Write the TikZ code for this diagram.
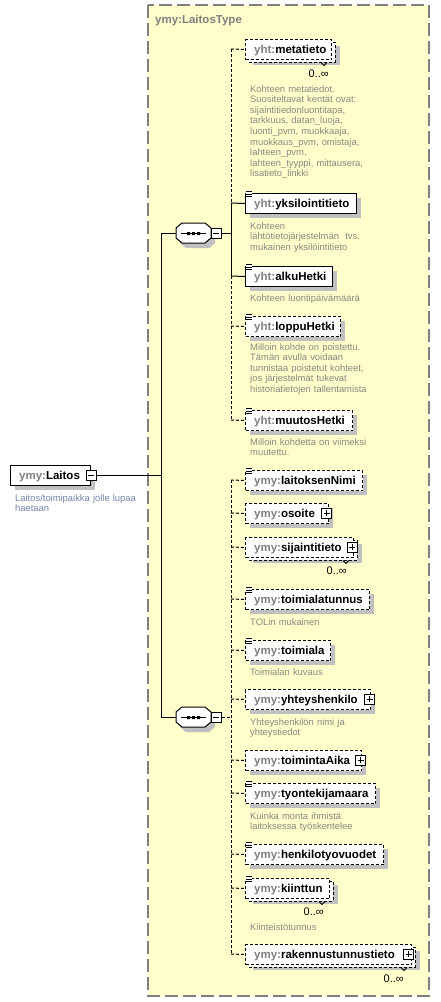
\documentclass[tikz,border=0pt]{standalone}
\usepackage{fontspec}
\setmainfont{Liberation Sans}
\definecolor{yel}{HTML}{FFFFCC}
\definecolor{bord}{HTML}{808080}
\definecolor{pfx}{HTML}{808080}
\definecolor{shd}{HTML}{C0C0C0}
\definecolor{dsc}{HTML}{888880}
\definecolor{dscb}{HTML}{7385AD}
\tikzset{
 solidbox/.style={draw=black, line width=1pt, fill=white, inner sep=0pt},
 dashbox/.style={solidbox, dash pattern=on 3pt off 2pt},
 lbl/.style={font=\fontsize{11.5}{13}\selectfont\bfseries, inner sep=0pt},
 desc/.style={font=\fontsize{9.4}{10.6}\selectfont, text=dsc, inner sep=0pt, text width=180pt, align=left},
 occ/.style={font=\fontsize{11}{12}\selectfont, inner sep=0pt},
 conn/.style={line width=1pt},
 dconn/.style={line width=1pt, dash pattern=on 3pt off 2pt},
 pmbox/.style={draw=black, line width=1pt, fill=white, minimum size=10pt, inner sep=0pt},
}
\newcommand\xbody[6]{%
  \node[#4, anchor=north west, minimum width={#3-245}, minimum height=20pt] (#1) at (245,#2) {};
  \node[lbl, anchor=base west] (#1-t) at (254,#2+14) {\textcolor{pfx}{#5:}#6};}
\newcommand\xsingle[6]{%
  \fill[shd] (250,#2+5) rectangle (#3+5,#2+25);
  \xbody{#1}{#2}{#3}{#4}{#5}{#6}}
\newcommand\xmulti[6]{%
  \fill[shd] (253,#2+7) rectangle (#3+9,#2+26);
  \draw[#4] (249,#2+3) rectangle (#3+4,#2+23);
  \draw[line width=0.8pt] (#3-10,#2+23.5) -- (#3-7,#2+26.5) -- (#3-4,#2+23.5);
  \xbody{#1}{#2}{#3}{#4}{#5}{#6}}
\newcommand\xicon[1]{%
  \fill[white] (245.8,#1-2.5) rectangle (252,#1+5);
  \draw[line width=0.9pt] (246,#1-1.5) -- (251.5,#1-1.5) (246,#1+1) -- (251.5,#1+1) (246,#1+3.5) -- (251.5,#1+3.5);}
\newcommand\xplus[3]{\node[pmbox] (#1) at (#2,#3) {};
  \draw[line width=0.9pt] ([xshift=-3pt]#1.center) -- ([xshift=3pt]#1.center) ([yshift=-3pt]#1.center) -- ([yshift=3pt]#1.center);}
\newcommand\xminus[3]{\node[pmbox] (#1) at (#2,#3) {};
  \draw[line width=0.9pt] ([xshift=-3pt]#1.center) -- ([xshift=3pt]#1.center);}
\newcommand\xseq[2]{%
  \fill[shd] (186,#2-5) -- (209,#2-5) -- (215,#2) -- (215,#2+10) -- (209,#2+15) -- (186,#2+15) -- (180,#2+10) -- (180,#2) -- cycle;
  \node[inner sep=0pt, minimum width=35pt, minimum height=20pt] (#1) at (193.5,#2) {};
  \draw[line width=1pt, fill=white] (182,#2-10) -- (205,#2-10) -- (211,#2-5) -- (211,#2+5) -- (205,#2+10) -- (182,#2+10) -- (176,#2+5) -- (176,#2-5) -- cycle;
  \draw[line width=1pt] (181,#2+0.5) -- (206,#2+0.5);
  \fill (187,#2-1) rectangle +(3,3) (192,#2-1) rectangle +(3,3) (197,#2-1) rectangle +(3,3);}
\newcommand\xconn[3]{\coordinate (h-#2) at (231,#3); \draw[#1] (h-#2) -- (#2.west);}
\begin{document}
\begin{tikzpicture}[x=1pt,y=-1pt]
\useasboundingbox (0,0) rectangle (440,1002);
\fill[white] (0,0) rectangle (440,1002);
% outer complex type box
\draw[bord, fill=yel, line width=1.2pt, dash pattern=on 13pt off 5pt] (148,5) rectangle (429,996);
\node[lbl, text=pfx, anchor=base west] (title) at (155,23) {ymy:LaitosType};

% root element
\fill[shd] (15,470) rectangle (95,490);
\node[solidbox, anchor=north west, minimum width=80pt, minimum height=20pt] (laitos) at (10,465) {};
\node[lbl, anchor=base west] (laitos-t) at (19,479.5) {\textcolor{pfx}{ymy:}Laitos};
\xminus{lm}{91}{475}
\node[desc, text=dscb, anchor=base west] (laitos-d) at (15,501) {Laitos/toimipaikka jolle lupaa\\haetaan};

% trunk lines
\coordinate (j0) at (161,475);
\coordinate (j1) at (161,233);
\coordinate (j2) at (161,717);
\draw[conn] (lm.east) -- (j0);
\draw[conn] (j1) -- (j2);

% sequences
\xseq{s1}{233}
\xminus{s1m}{216}{233}
\xseq{s2}{717}
\xminus{s2m}{216}{717}
\draw[conn] (j1) -- (s1.west);
\draw[conn] (j2) -- (s2.west);
\coordinate (v1s) at (231,233);
\coordinate (v2s) at (231,717);
\draw[conn] (s1m.east) -- (v1s);
\draw[dconn] (s2m.east) -- (v2s);

% vertical child lines
\coordinate (v1a) at (231,49);
\coordinate (v1b) at (231,203);
\coordinate (v1c) at (231,276);
\coordinate (v1d) at (231,420);
\draw[dconn] (v1a) -- (v1b);
\draw[conn] (v1b) -- (v1c);
\draw[dconn] (v1c) -- (v1d);
\coordinate (v2a) at (231,480);
\coordinate (v2b) at (231,954);
\draw[dconn] (v2a) -- (v2b);

% ---- first sequence children
\xmulti{metatieto}{39}{331}{dashbox}{yht}{metatieto}
\node[occ, anchor=base east] (metatieto-o) at (329,77) {0..∞};
\xconn{dconn}{metatieto}{49}
\node[desc, anchor=base west] (metatieto-d) at (250,92) {Kohteen metatiedot.\\Suositeltavat kentät ovat:\\sijaintitiedonluontitapa,\\tarkkuus, datan\_luoja,\\luonti\_pvm, muokkaaja,\\muokkaus\_pvm, omistaja,\\lahteen\_pvm,\\lahteen\_tyyppi, mittausera,\\lisatieto\_linkki};

\xsingle{yksil}{193}{356}{solidbox}{yht}{yksilointitieto}
\xicon{193}
\xconn{conn}{yksil}{203}
\node[desc, anchor=base west] (yksil-d) at (250,229) {Kohteen\\lähtötietojärjestelmän~ tvs.\\mukainen yksilöintitieto};

\xsingle{alku}{266}{332}{solidbox}{yht}{alkuHetki}
\xicon{266}
\xconn{conn}{alku}{276}
\node[desc, anchor=base west] (alku-d) at (250,301) {Kohteen luontipäivämäärä};

\xsingle{loppu}{316}{340}{dashbox}{yht}{loppuHetki}
\xicon{316}
\xconn{dconn}{loppu}{326}
\node[desc, anchor=base west] (loppu-d) at (250,350) {Milloin kohde on poistettu.\\Tämän avulla voidaan\\tunnistaa poistetut kohteet,\\jos järjestelmät tukevat\\historiatietojen tallentamista};

\xsingle{muutos}{410}{352}{dashbox}{yht}{muutosHetki}
\xicon{410}
\xconn{dconn}{muutos}{420}
\node[desc, anchor=base west] (muutos-d) at (250,445) {Milloin kohdetta on viimeksi\\muutettu.};

% ---- second sequence children
\xsingle{nimi}{470}{362}{dashbox}{ymy}{laitoksenNimi}
\xicon{470}
\xconn{dconn}{nimi}{480}

\xsingle{osoite}{503}{328}{dashbox}{ymy}{osoite}
\xplus{osoite-p}{326.5}{513}
\xconn{dconn}{osoite}{513}

\xmulti{sijainti}{537}{353}{dashbox}{ymy}{sijaintitieto}
\xplus{sijainti-p}{352}{547}
\node[occ, anchor=base east] (sijainti-o) at (347,574) {0..∞};
\xconn{dconn}{sijainti}{547}

\xsingle{tolt}{589}{369}{dashbox}{ymy}{toimialatunnus}
\xicon{589}
\xconn{dconn}{tolt}{599}
\node[desc, anchor=base west] (tolt-d) at (250,625) {TOLin mukainen};

\xsingle{toimiala}{640}{330}{dashbox}{ymy}{toimiala}
\xicon{640}
\xconn{dconn}{toimiala}{650}
\node[desc, anchor=base west] (toimiala-d) at (250,675) {Toimialan kuvaus};

\xsingle{yhteys}{689}{370}{dashbox}{ymy}{yhteyshenkilo}
\xplus{yhteys-p}{369.5}{699}
\xconn{dconn}{yhteys}{699}
\node[desc, anchor=base west] (yhteys-d) at (250,725) {Yhteyshenkilön nimi ja\\yhteystiedot};

\xsingle{aika}{750}{361}{dashbox}{ymy}{toimintaAika}
\xplus{aika-p}{360.5}{760}
\xconn{dconn}{aika}{760}

\xsingle{tyont}{783}{375}{dashbox}{ymy}{tyontekijamaara}
\xicon{783}
\xconn{dconn}{tyont}{793}
\node[desc, anchor=base west] (tyont-d) at (250,819) {Kuinka monta ihmistä\\laitoksessa työskentelee};

\xsingle{henk}{844}{383}{dashbox}{ymy}{henkilotyovuodet}
\xicon{844}
\xconn{dconn}{henk}{854}

\xmulti{kiint}{878}{329}{dashbox}{ymy}{kiinttun}
\xicon{878}
\node[occ, anchor=base east] (kiint-o) at (324,915) {0..∞};
\xconn{dconn}{kiint}{888}
\node[desc, anchor=base west] (kiint-d) at (250,930) {Kiinteistötunnus};

\xmulti{rak}{944}{411}{dashbox}{ymy}{rakennustunnustieto}
\xplus{rak-p}{408.5}{954}
\node[occ, anchor=base east] (rak-o) at (404,982) {0..∞};
\xconn{dconn}{rak}{954}
\end{tikzpicture}
\end{document}
